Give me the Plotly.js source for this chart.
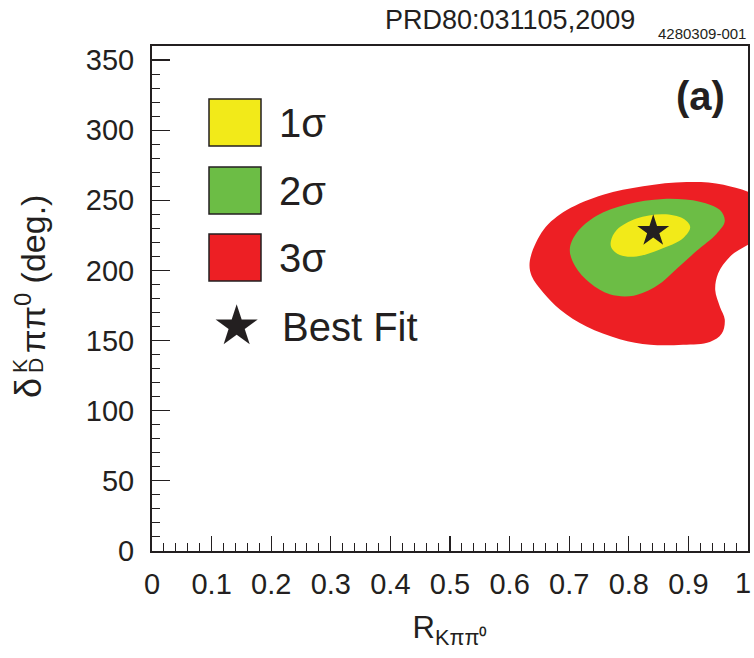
<!DOCTYPE html>
<html>
<head>
<meta charset="utf-8">
<script src="https://cdn.plot.ly/plotly-3.0.1.min.js"></script>
<style>html,body{margin:0;padding:0;background:#fff;}#chart{width:754px;height:658px;}</style>
</head>
<body>
<div id="chart"></div>
<script>
// ---- data ----
const red3sX = [0.634,0.657,0.696,0.757,0.824,0.897,0.959,1.02,1.02,0.970,0.950,0.945,0.953,0.961,0.956,0.936,0.891,0.836,0.785,0.729,0.685,0.657,0.637,0.634];
const red3sY = [207,229,243,254,260,263,261,250,226,210,198,186,174,165,155,149,147,147,151,160,172,184,196,207];
const green2sX = [0.701,0.713,0.746,0.796,0.858,0.919,0.953,0.961,0.947,0.914,0.880,0.847,0.808,0.768,0.735,0.710,0.701];
const green2sY = [215,227,239,247,251,249,243,235,226,214,201,189,182,183,191,203,215];
const yellow1sX = [0.770,0.780,0.813,0.858,0.891,0.903,0.891,0.852,0.813,0.785,0.771,0.770];
const yellow1sY = [221,229,237,240,237,231,223,215,210,211,216,221];
const bestFitX = [0.841];
const bestFitY = [228];
const xTickVals = [0,0.1,0.2,0.3,0.4,0.5,0.6,0.7,0.8,0.9,1];
const xTickText = ["0","0.1","0.2","0.3","0.4","0.5","0.6","0.7","0.8","0.9","1"];
const yTickVals = [0,50,100,150,200,250,300,350];
const yTickText = ["0","50","100","150","200","250","300","350"];
const legendLabels = ["1σ","2σ","3σ","Best Fit"];

const cYellow = "#f2ea19", cGreen = "#6cbd45", cRed = "#ed1f24", cInk = "#231f20";
const FONT = "Liberation Sans, Arial, Helvetica, sans-serif";

function region(x, y, color, name) {
  return {x: x, y: y, type: "scatter", mode: "lines", fill: "toself", fillcolor: color,
    line: {width: 0, color: color, shape: "spline", smoothing: 1}, name: name, hoverinfo: "skip", showlegend: false};
}
const traces = [
  region(red3sX, red3sY, cRed, "3σ"),
  region(green2sX, green2sY, cGreen, "2σ"),
  region(yellow1sX, yellow1sY, cYellow, "1σ"),
  {x: bestFitX, y: bestFitY, type: "scatter", mode: "markers", name: "Best Fit", showlegend: false,
   marker: {symbol: "star", size: 24, color: cInk, line: {width: 0}}}
];

// paper-coordinate helpers (plot area 152..748 x, 46..551 y)
const L = 152, R = 748, T = 46, B = 551;
const px = v => (v - L) / (R - L);
const py = v => (B - v) / (B - T);

const legendColors = [cYellow, cGreen, cRed];
const legendTops = [99, 167, 234];
const shapes = legendColors.map((c, i) => ({
  type: "rect", xref: "paper", yref: "paper",
  x0: px(209), x1: px(261), y0: py(legendTops[i]), y1: py(legendTops[i] + 47),
  fillcolor: c, line: {color: cInk, width: 1.5}
}));

// last x tick label is drawn right-aligned at the frame edge so it stays inside the page
const lastX = xTickVals.length - 1;
const xTickTextShown = xTickText.map((t, i) => i === lastX ? "" : t);

const annotations = [];
annotations.push({xref: "x", yref: "paper", x: xTickVals[lastX], y: py(583), text: xTickText[lastX], showarrow: false,
  xanchor: "right", yanchor: "middle", xshift: 5, font: {family: FONT, size: 29, color: cInk}});
legendLabels.forEach((t, i) => {
  const cy = i < 3 ? legendTops[i] + 24 : 327;
  annotations.push({xref: "paper", yref: "paper", x: px(i < 3 ? 277 : 280), y: py(cy), text: t,
    showarrow: false, xanchor: "left", yanchor: "middle", font: {family: FONT, size: 40, color: cInk}});
});
annotations.push({xref: "paper", yref: "paper", x: px(236), y: py(325), text: "★", showarrow: false,
  xanchor: "center", yanchor: "middle", font: {family: "DejaVu Sans", size: 55, color: cInk}});
annotations.push({xref: "paper", yref: "paper", x: px(700), y: py(96), text: "<b>(a)</b>", showarrow: false,
  xanchor: "center", yanchor: "middle", font: {family: FONT, size: 40, color: cInk}});
annotations.push({xref: "paper", yref: "paper", x: px(510), y: py(20), text: "PRD80:031105,2009", showarrow: false,
  xanchor: "center", yanchor: "middle", font: {family: FONT, size: 27, color: cInk}});
annotations.push({xref: "paper", yref: "paper", x: px(702), y: py(34), text: "4280309-001", showarrow: false,
  xanchor: "center", yanchor: "middle", font: {family: FONT, size: 15, color: cInk}});
// y-axis title pieces (stacked super/subscript)
annotations.push({xref: "paper", yref: "paper", x: px(29), y: py(388), text: "δ", showarrow: false, textangle: -90,
  xanchor: "center", yanchor: "middle", font: {family: FONT, size: 36, color: cInk}});
annotations.push({xref: "paper", yref: "paper", x: px(19), y: py(366), text: "K", showarrow: false, textangle: -90,
  xanchor: "center", yanchor: "middle", font: {family: FONT, size: 21, color: cInk}});
annotations.push({xref: "paper", yref: "paper", x: px(35), y: py(366), text: "D", showarrow: false, textangle: -90,
  xanchor: "center", yanchor: "middle", font: {family: FONT, size: 21, color: cInk}});
annotations.push({xref: "paper", yref: "paper", x: px(30), y: py(355), text: "ππ<sup>0</sup> (deg.)", showarrow: false, textangle: -90,
  xanchor: "center", yanchor: "bottom", font: {family: FONT, size: 34, color: cInk}});

const layout = {
  width: 754, height: 658,
  margin: {l: L, r: 754 - R, t: T, b: 658 - B, pad: 0},
  paper_bgcolor: "#fff", plot_bgcolor: "#fff",
  showlegend: false,
  font: {family: FONT, color: cInk},
  xaxis: {
    range: [0, 1], tickvals: xTickVals, ticktext: xTickTextShown,
    ticks: "inside", ticklen: 15, tickwidth: 1.2, tickcolor: cInk,
    minor: {dtick: 0.02, ticks: "inside", ticklen: 8, tickwidth: 1, tickcolor: cInk},
    showline: true, linewidth: 2, linecolor: cInk, mirror: true,
    showgrid: false, zeroline: false,
    tickfont: {family: FONT, size: 29, color: cInk}, ticklabelstandoff: 6,
    title: {text: "R<sub>Kππ⁰</sub>", font: {family: FONT, size: 31, color: cInk}, standoff: 18}
  },
  yaxis: {
    range: [0, 360], tickvals: yTickVals, ticktext: yTickText,
    ticks: "inside", ticklen: 18, tickwidth: 1.2, tickcolor: cInk,
    minor: {dtick: 10, ticks: "inside", ticklen: 8, tickwidth: 1, tickcolor: cInk},
    showline: true, linewidth: 2, linecolor: cInk, mirror: true,
    showgrid: false, zeroline: false,
    tickfont: {family: FONT, size: 29, color: cInk}, ticklabelstandoff: 10
  },
  shapes: shapes,
  annotations: annotations
};

Plotly.newPlot("chart", traces, layout, {displayModeBar: false, staticPlot: true});
</script>
</body>
</html>
